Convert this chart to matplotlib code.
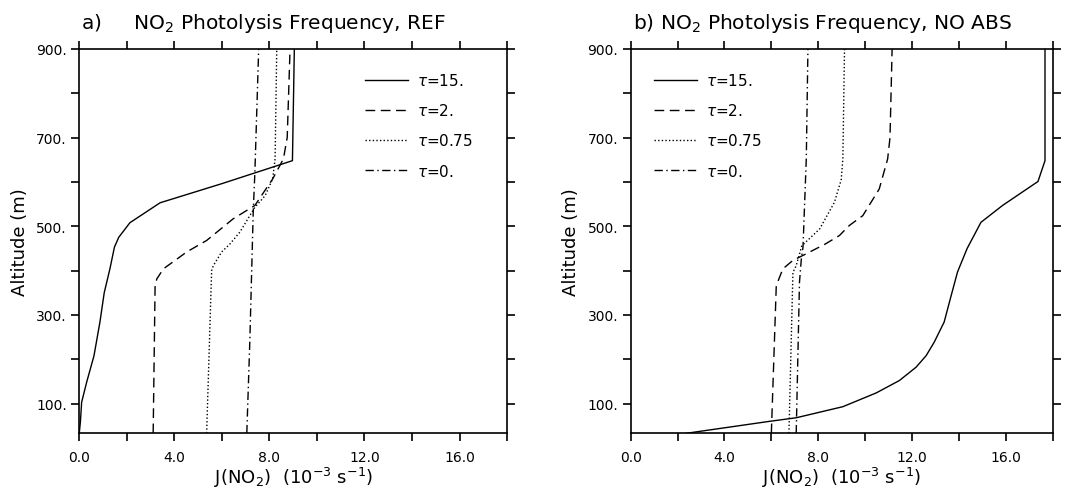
import numpy as np
import matplotlib
matplotlib.use("Agg")
import matplotlib.pyplot as plt

# --- data: J(NO2) in 1e-3 s-1 vs altitude (m) ---
alt15_ref = [33, 60, 103, 148, 208, 284, 350, 404, 453, 475, 508, 553, 596, 648, 900]
j15_ref = [0.0, 0.05, 0.10, 0.31, 0.62, 0.87, 1.05, 1.29, 1.48, 1.66, 2.13, 3.40, 5.99, 8.97, 9.05]
alt2_ref = [33, 363, 381, 404, 442, 468, 517, 547, 607, 652, 700, 900]
j2_ref = [3.11, 3.19, 3.26, 3.54, 4.52, 5.36, 6.48, 7.39, 8.14, 8.59, 8.75, 8.87]
alt075_ref = [33, 400, 411, 442, 460, 487, 543, 569, 607, 652, 900]
j075_ref = [5.36, 5.57, 5.64, 5.99, 6.34, 6.76, 7.39, 7.82, 8.14, 8.24, 8.31]
alt0_ref = [33, 246, 532, 622, 900]
j0_ref = [7.05, 7.18, 7.32, 7.39, 7.55]

alt15_nabs = [33, 60, 68, 93, 124, 152, 182, 208, 239, 284, 340, 397, 450, 509, 547, 601, 648, 900]
j15_nabs = [2.38, 5.93, 7.06, 9.05, 10.47, 11.46, 12.17, 12.6, 12.95, 13.37, 13.65, 13.94,
            14.35, 14.94, 15.86, 17.37, 17.67, 17.67]
alt2_nabs = [33, 366, 404, 423, 438, 460, 479, 502, 524, 584, 652, 700, 900]
j2_nabs = [6.0, 6.21, 6.49, 6.92, 7.49, 8.3, 8.9, 9.33, 9.9, 10.6, 10.96, 11.06, 11.15]
alt075_nabs = [33, 396, 411, 456, 494, 554, 605, 652, 900]
j075_nabs = [6.75, 6.92, 7.06, 7.3, 8.06, 8.69, 8.98, 9.05, 9.12]
alt0_nabs = [33, 374, 427, 453, 652, 900]
j0_nabs = [7.06, 7.2, 7.28, 7.35, 7.49, 7.56]

labels = [r'$\tau$=15.', r'$\tau$=2.', r'$\tau$=0.75', r'$\tau$=0.']
styles = ['-', (0, (7, 4)), (0, (1, 1.6)), (0, (6, 2.5, 1, 2.5))]

xticks = np.arange(0, 19, 2)
yticks = np.arange(100, 901, 100)


def setup(ax, title):
    ax.set_xlim(0, 18)
    ax.set_ylim(33, 900)
    ax.set_xticks(xticks)
    ax.set_xticklabels([f"{v:.1f}" if v % 4 == 0 else "" for v in xticks])
    ax.set_yticks(yticks)
    ax.set_yticklabels([f"{v}." if v % 200 == 100 else "" for v in yticks])
    ax.tick_params(direction='out', length=6, width=1.2, top=True, right=True,
                   labelsize=10)
    ax.tick_params(axis='x', pad=6)
    ax.tick_params(axis='y', pad=3)
    for s in ax.spines.values():
        s.set_linewidth(1.2)
    ax.set_xlabel(r'J(NO$_2$)  (10$^{-3}$ s$^{-1}$)', fontsize=13, labelpad=1)
    ax.set_ylabel('Altitude (m)', fontsize=13, labelpad=5)
    ax.text(0.005, 1.055, title, transform=ax.transAxes, fontsize=14.5,
            ha='left', va='baseline')


fig = plt.figure(figsize=(10.74, 4.89), dpi=100)
ax1 = fig.add_axes([0.0738, 0.1119, 0.3983, 0.7859])
ax2 = fig.add_axes([0.5872, 0.1119, 0.3930, 0.7859])

ref = [(j15_ref, alt15_ref), (j2_ref, alt2_ref), (j075_ref, alt075_ref), (j0_ref, alt0_ref)]
nabs = [(j15_nabs, alt15_nabs), (j2_nabs, alt2_nabs), (j075_nabs, alt075_nabs), (j0_nabs, alt0_nabs)]

for (x, y), ls, lab in zip(ref, styles, labels):
    ax1.plot(x, y, color='black', lw=1.0, linestyle=ls, label=lab)
for (x, y), ls, lab in zip(nabs, styles, labels):
    ax2.plot(x, y, color='black', lw=1.0, linestyle=ls, label=lab)

setup(ax1, r'a)     NO$_2$ Photolysis Frequency, REF')
setup(ax2, r'b) NO$_2$ Photolysis Frequency, NO ABS')

for ax, x0 in [(ax1, 0.668), (ax2, 0.055)]:
    ax.legend(loc='upper left', bbox_to_anchor=(x0, 0.94), frameon=False,
              fontsize=11, handlelength=2.8, handletextpad=0.6,
              labelspacing=0.93, borderpad=0, borderaxespad=0)

fig.savefig('out.png', dpi=100)
